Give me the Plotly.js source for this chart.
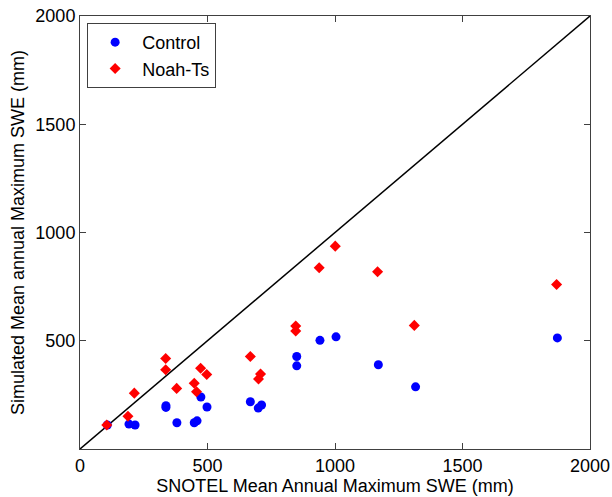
<!DOCTYPE html>
<html>
<head>
<meta charset="utf-8">
<script src="https://cdn.plot.ly/plotly-3.0.1.min.js"></script>
<style>html,body{margin:0;padding:0;background:#fff;}#chart{width:612px;height:497px;}</style>
</head>
<body>
<div id="chart"></div>
<script>
// SNOTEL mean annual maximum SWE (mm) vs simulated
var controlX = [107, 192, 216, 337, 337, 380, 448, 459, 474, 498, 668, 699, 712, 850, 850, 941, 1004, 1170, 1316, 1872];
var controlY = [111, 115, 111, 200, 192, 121, 121, 130, 240, 194, 218, 189, 203, 427, 384, 502, 518, 389, 287, 513];
var noahX = [105, 188, 213, 336, 336, 379, 448, 457, 473, 497, 668, 700, 708, 846, 846, 938, 1001, 1167, 1311, 1869];
var noahY = [111, 151, 258, 418, 366, 280, 304, 264, 373, 344, 427, 323, 346, 568, 545, 837, 937, 819, 571, 760];
var oneToOne = [0, 2000];
var xTicks = [0, 500, 1000, 1500, 2000];
var yTicks = [500, 1000, 1500, 2000];

var font = "Liberation Sans, Arial, sans-serif";

var traces = [
  {x: oneToOne, y: oneToOne, mode: 'lines', line: {color: '#000', width: 1.5}, showlegend: false, hoverinfo: 'skip'},
  {x: controlX, y: controlY, mode: 'markers', name: 'Control',
   marker: {symbol: 'circle', size: 9, color: '#0000ff'}},
  {x: noahX, y: noahY, mode: 'markers', name: 'Noah-Ts',
   marker: {symbol: 'diamond', size: 8.5, color: '#ff0000'}}
];

var axisCommon = {
  showgrid: false, zeroline: false, showline: true, linecolor: '#404040', linewidth: 1,
  mirror: 'ticks', ticks: 'inside', ticklen: 6, tickcolor: '#404040', tickwidth: 1,
  tickfont: {family: font, size: 18, color: '#000'}
};

var layout = {
  width: 612, height: 497,
  margin: {l: 80, r: 22, t: 16, b: 48},
  paper_bgcolor: '#fff', plot_bgcolor: '#fff',
  font: {family: font, size: 18, color: '#000'},
  xaxis: Object.assign({}, axisCommon, {
    range: [0, 2000], tickvals: xTicks, ticktext: xTicks.map(String),
    title: {text: 'SNOTEL Mean Annual Maximum SWE (mm)', font: {family: font, size: 18, color: '#000'}, standoff: 0}
  }),
  yaxis: Object.assign({}, axisCommon, {
    range: [0, 2000], tickvals: yTicks, ticktext: yTicks.map(String),
    title: {text: 'Simulated Mean annual Maximum SWE (mm)', font: {family: font, size: 18, color: '#000'}, standoff: 6}
  }),
  legend: {
    x: 0.014, y: 0.984, xanchor: 'left', yanchor: 'top',
    bgcolor: '#fff', bordercolor: '#404040', borderwidth: 1,
    itemwidth: 44, tracegroupgap: 0,
    font: {family: font, size: 18, color: '#000'}
  },
  showlegend: true
};

Plotly.newPlot('chart', traces, layout, {displayModeBar: false, staticPlot: true});
</script>
</body>
</html>
